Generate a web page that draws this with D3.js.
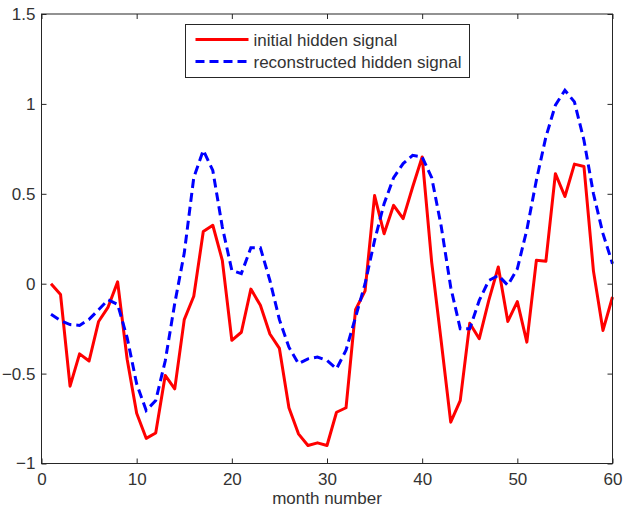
<!DOCTYPE html>
<html>
<head>
<meta charset="utf-8">
<script src="https://cdn.jsdelivr.net/npm/d3@7"></script>
<style>
  body { margin: 0; background: #fff; }
  text { font-family: "Liberation Sans", Arial, sans-serif; }
</style>
</head>
<body>
<div id="plot"></div>
<script>
// month index 1..60
const months = d3.range(1, 61);

// initial hidden signal (red, solid)
const initialSignal = [
  0.00, -0.06, -0.57, -0.39, -0.43, -0.21, -0.13, 0.01, -0.42, -0.72,
  -0.86, -0.83, -0.51, -0.585, -0.20, -0.07, 0.29, 0.325, 0.13, -0.315,
  -0.27, -0.03, -0.12, -0.28, -0.36, -0.69, -0.835, -0.90, -0.885, -0.90,
  -0.715, -0.69, -0.145, -0.04, 0.49, 0.278, 0.436, 0.362, 0.538, 0.705,
  0.12, -0.32, -0.77, -0.65, -0.22, -0.306, -0.093, 0.093, -0.21, -0.10,
  -0.325, 0.13, 0.125, 0.612, 0.485, 0.665, 0.652, 0.07, -0.26, -0.074
];

// reconstructed hidden signal (blue, dashed)
const reconstructedSignal = [
  -0.17, -0.205, -0.227, -0.232, -0.198, -0.145, -0.09, -0.115, -0.30, -0.557,
  -0.705, -0.65, -0.43, -0.11, 0.17, 0.59, 0.742, 0.63, 0.315, 0.074,
  0.056, 0.20, 0.20, 0.018, -0.20, -0.353, -0.445, -0.418, -0.408, -0.427,
  -0.473, -0.37, -0.186, 0.0, 0.241, 0.445, 0.59, 0.668, 0.714, 0.705,
  0.59, 0.32, -0.02, -0.25, -0.25, -0.093, 0.018, 0.046, -0.009, 0.083,
  0.30, 0.575, 0.816, 0.993, 1.076, 1.011, 0.798, 0.50, 0.278, 0.111
];

const xTicks = [0, 10, 20, 30, 40, 50, 60];
const yTicks = [-1, -0.5, 0, 0.5, 1, 1.5];
const seriesNames = ["initial hidden signal", "reconstructed hidden signal"];

const width = 623, height = 509;
const margin = {left: 41.5, right: 10.5, top: 14, bottom: 45.5};
const axisColor = "#262626";
const fontSize = "17px";

const svg = d3.select("#plot").append("svg")
  .attr("width", width)
  .attr("height", height);

const x = d3.scaleLinear().domain([0, 60]).range([margin.left, width - margin.right]);
const y = d3.scaleLinear().domain([-1, 1.5]).range([height - margin.bottom, margin.top]);

// lines
const line = d3.line()
  .x((d, i) => x(months[i]))
  .y(d => y(d));

svg.append("path")
  .datum(initialSignal)
  .attr("d", line)
  .attr("fill", "none")
  .attr("stroke", "#ff0000")
  .attr("stroke-width", 3)
  .attr("stroke-linejoin", "round");

svg.append("path")
  .datum(reconstructedSignal)
  .attr("d", line)
  .attr("fill", "none")
  .attr("stroke", "#0000ff")
  .attr("stroke-width", 3)
  .attr("stroke-dasharray", "9,5");

// box + inward ticks on all sides
svg.append("rect")
  .attr("x", x(0)).attr("y", y(1.5))
  .attr("width", x(60) - x(0)).attr("height", y(-1) - y(1.5))
  .attr("fill", "none").attr("stroke", axisColor).attr("stroke-width", 1);

const tickLen = 5;
const xAxisB = d3.axisBottom(x).tickValues(xTicks).tickSizeInner(-tickLen).tickSizeOuter(0).tickPadding(9);
const xAxisT = d3.axisTop(x).tickValues(xTicks).tickSizeInner(-tickLen).tickSizeOuter(0).tickFormat("");
const yAxisL = d3.axisLeft(y).tickValues(yTicks).tickSizeInner(-tickLen).tickSizeOuter(0).tickPadding(6)
  .tickFormat(d3.format("~g"));
const yAxisR = d3.axisRight(y).tickValues(yTicks).tickSizeInner(-tickLen).tickSizeOuter(0).tickFormat("");

function styleAxis(g) {
  g.select(".domain").remove();
  g.selectAll(".tick line").attr("stroke", axisColor);
  g.selectAll(".tick text")
    .attr("fill", "#333")
    .style("font-size", fontSize)
    .style("font-family", "'Liberation Sans', Arial, sans-serif");
}

svg.append("g").attr("transform", `translate(0,${y(-1)})`).call(xAxisB).call(styleAxis);
svg.append("g").attr("transform", `translate(0,${y(1.5)})`).call(xAxisT).call(styleAxis);
svg.append("g").attr("transform", `translate(${x(0)},0)`).call(yAxisL).call(styleAxis);
svg.append("g").attr("transform", `translate(${x(60)},0)`).call(yAxisR).call(styleAxis);

// x label
svg.append("text")
  .attr("x", (x(0) + x(60)) / 2)
  .attr("y", 504)
  .attr("text-anchor", "middle")
  .attr("fill", "#333")
  .style("font-size", fontSize)
  .text("month number");

// legend
const legend = svg.append("g").attr("transform", "translate(185.5,24.5)");
legend.append("rect")
  .attr("width", 284).attr("height", 53)
  .attr("fill", "#fff").attr("stroke", axisColor).attr("stroke-width", 1);

const legendItems = [
  {name: seriesNames[0], color: "#ff0000", dash: null},
  {name: seriesNames[1], color: "#0000ff", dash: "9,5"}
];
legendItems.forEach(function(d, i) {
  const ly = 15 + i * 22;
  legend.append("line")
    .attr("x1", 10).attr("x2", 63)
    .attr("y1", ly).attr("y2", ly)
    .attr("stroke", d.color).attr("stroke-width", 3)
    .attr("stroke-dasharray", d.dash);
  legend.append("text")
    .attr("x", 68).attr("y", ly + 6)
    .attr("fill", "#333")
    .style("font-size", fontSize)
    .text(d.name);
});
</script>
</body>
</html>
